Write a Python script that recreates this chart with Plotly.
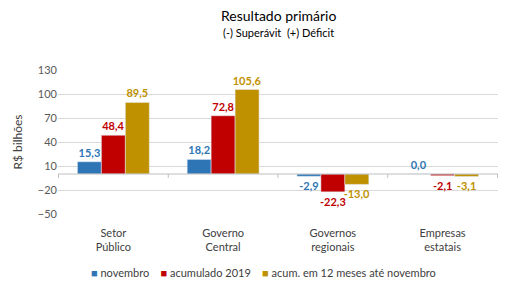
import plotly.graph_objects as go

categorias = ["Setor<br>Público", "Governo<br>Central", "Governos<br>regionais", "Empresas<br>estatais"]
novembro = [15.3, 18.2, -2.9, 0.0]
acumulado_2019 = [48.4, 72.8, -22.3, -2.1]
acum_12_meses = [89.5, 105.6, -13.0, -3.1]

series = [
    ("novembro", novembro, "#2E75B6"),
    ("acumulado 2019", acumulado_2019, "#C00000"),
    ("acum. em 12 meses até novembro", acum_12_meses, "#BF9000"),
]

fig = go.Figure()
for nome, vals, cor in series:
    fig.add_trace(go.Bar(
        x=categorias, y=vals, name=nome, marker_color=cor,
        texttemplate="<b>%{y:.1f}</b>", textposition="outside",
        textfont=dict(color=cor, size=11), cliponaxis=False,
        constraintext="none",
    ))

# compact Excel-like legend built from the series names/colours
nbsp = "\u00a0"
legenda = (nbsp * 4).join(
    f"<span style='color:{cor}'>■</span>{nbsp}{nome}" for nome, _, cor in series
)

plot_h = 293 - 70 - 79
fig.update_layout(
    width=514, height=293,
    margin=dict(l=58, r=16, t=70, b=79, autoexpand=False),
    plot_bgcolor="white", paper_bgcolor="white",
    font=dict(family="Lato", size=11, color="#404040"),
    separators=",.",
    barmode="group", bargap=0.345, bargroupgap=0,
    showlegend=False,
    annotations=[
        dict(text="Resultado primário", x=0.5, y=1 + (70 - 15) / plot_h,
             xref="paper", yref="paper", showarrow=False, yanchor="middle",
             font=dict(size=14, color="#000000")),
        dict(text="(-) Superávit  (+) Déficit", x=0.5, y=1 + (70 - 32) / plot_h,
             xref="paper", yref="paper", showarrow=False, yanchor="middle",
             font=dict(size=11, color="#000000")),
        dict(text=legenda, x=(263 - 58) / 440, y=-(272 - 214) / plot_h,
             xref="paper", yref="paper", showarrow=False, yanchor="middle",
             font=dict(size=11, color="#404040")),
    ],
)

fig.update_yaxes(
    range=[-50, 130], tick0=10, dtick=30, showgrid=True, gridcolor="#D9D9D9",
    zeroline=False, tickfont=dict(size=11, color="#595959"),
    title=dict(text="R$ bilhões", font=dict(size=12, color="#404040"), standoff=12),
)
fig.update_xaxes(
    showline=False, ticks="", tickfont=dict(size=11, color="#404040"),
    ticklabelstandoff=11,
)
fig.add_hline(y=0, line=dict(color="#BFBFBF", width=1))
# small separator ticks on the zero line between categories
for i in range(len(categorias) + 1):
    fig.add_shape(type="line", xref="x", yref="y", x0=i - 0.5, x1=i - 0.5,
                  y0=0, y1=-5, line=dict(color="#BFBFBF", width=1))

fig.write_html("out.html", config={"displayModeBar": False},
               post_script="document.body.style.margin='0';")
